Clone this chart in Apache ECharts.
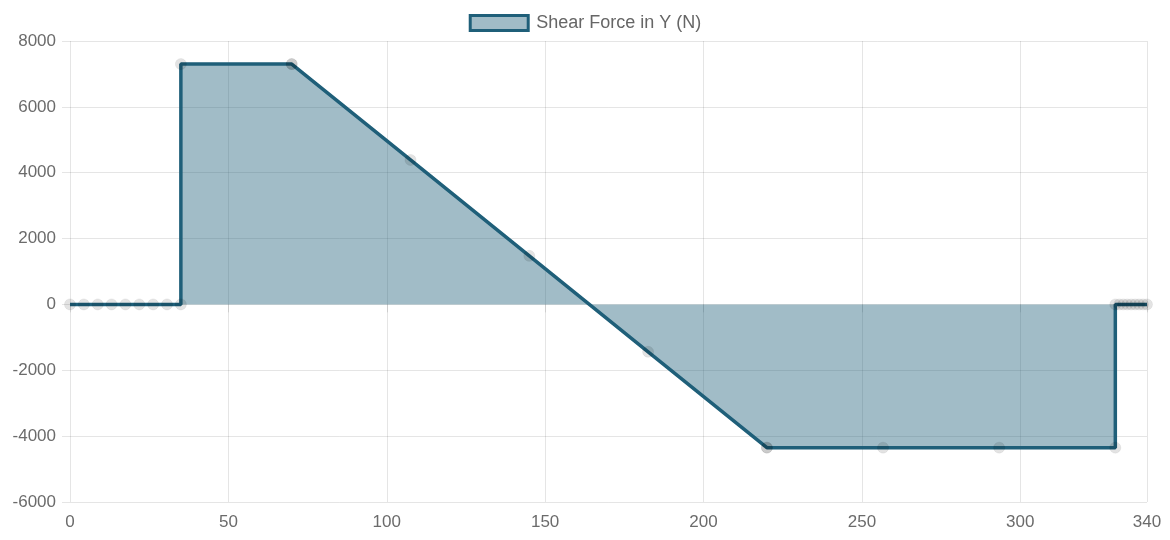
<!DOCTYPE html>
<html><head><meta charset="utf-8">
<script src="https://cdn.jsdelivr.net/npm/echarts@6/dist/echarts.min.js"></script>
<style>html,body{margin:0;padding:0;background:#fff}#c{width:1170px;height:540px}</style>
</head><body><div id="c"></div>
<script>
const seriesName = 'Shear Force in Y (N)';
const positions = [0, 4.375, 8.75, 13.125, 17.5, 21.875, 26.25, 30.625, 35, 35, 70, 70, 107.5, 145, 182.5, 220, 220, 256.67, 293.33, 330, 330, 331.25, 332.5, 333.75, 335, 336.25, 337.5, 338.75, 340];
const shear = [0, 0, 0, 0, 0, 0, 0, 0, 0, 7300, 7300, 7300, 4388, 1475, -1438, -4350, -4350, -4350, -4350, -4350, 0, 0, 0, 0, 0, 0, 0, 0, 0];
const yTicks = [-6000, -4000, -2000, 0, 2000, 4000, 6000, 8000];
const xTicks = [0, 50, 100, 150, 200, 250, 300, 340];

const lineColor = '#1f5f79';
const fillColor = 'rgba(31,95,121,0.42)';
const gridColor = 'rgba(0,0,0,0.1)';
const font = 'Liberation Sans, Arial, sans-serif';
const chart = echarts.init(document.getElementById('c'));
chart.setOption({
  animation: false,
  legend: {
    top: 9, left: 'center',
    itemWidth: 58, itemHeight: 15, itemGap: 10,
    textStyle: { color: '#666', fontSize: 18, fontFamily: font, padding: [0, 0, 0, 3] },
    data: [{ name: seriesName, icon: 'rect', itemStyle: { color: fillColor, borderColor: lineColor, borderWidth: 3 } }]
  },
  grid: { left: 70, right: 23, top: 41, bottom: 38 },
  xAxis: {
    type: 'value', min: xTicks[0], max: xTicks[xTicks.length - 1], interval: 50,
    axisLine: { show: false },
    axisTick: { show: true, length: 8, lineStyle: { color: gridColor } },
    splitLine: { show: true, lineStyle: { color: gridColor } },
    axisLabel: { color: '#6b6b6b', fontSize: 17, margin: 12, fontFamily: font, showMaxLabel: true }
  },
  yAxis: {
    type: 'value', min: yTicks[0], max: yTicks[yTicks.length - 1], interval: 2000,
    axisLine: { show: false },
    axisTick: { show: true, length: 8, lineStyle: { color: gridColor } },
    splitLine: { show: true, lineStyle: { color: gridColor } },
    axisLabel: { color: '#6b6b6b', fontSize: 17, margin: 14, fontFamily: font, formatter: v => String(v) }
  },
  series: [{
    name: seriesName,
    type: 'line',
    data: positions.map((x, i) => [x, shear[i]]),
    lineStyle: { color: lineColor, width: 3.5 },
    areaStyle: { color: fillColor, opacity: 1 },
    symbol: 'circle', symbolSize: 11, showAllSymbol: true,
    itemStyle: { color: 'rgba(0,0,0,0.1)', borderColor: 'rgba(0,0,0,0.06)', borderWidth: 1, shadowBlur: 3, shadowColor: 'rgba(0,0,0,0.15)' },
    z: 2
  }]
});
</script></body></html>
